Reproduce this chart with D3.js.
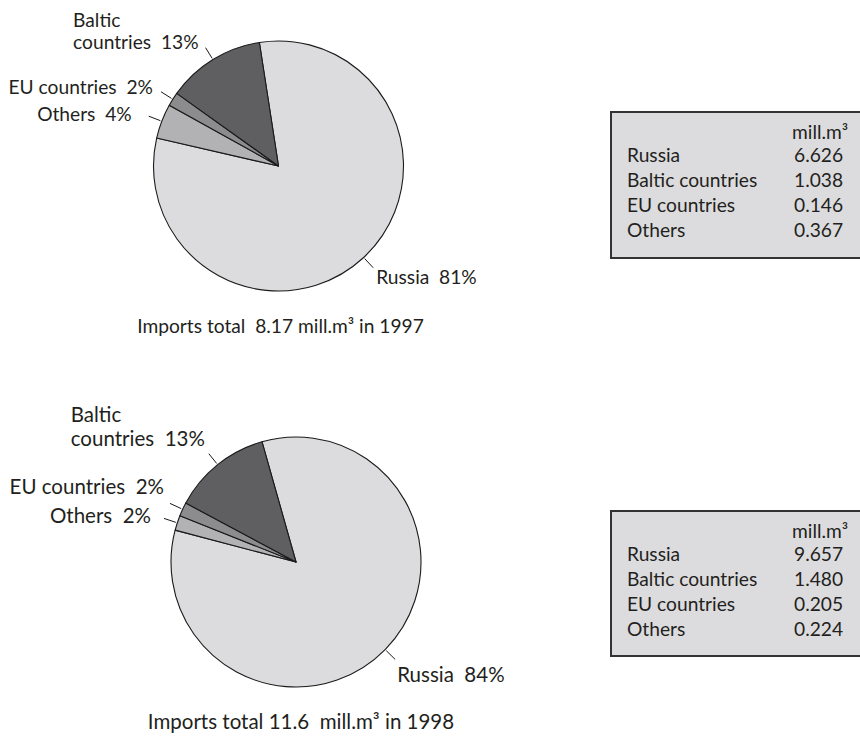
<!DOCTYPE html>
<html>
<head>
<meta charset="utf-8">
<script src="https://cdn.jsdelivr.net/npm/d3@7"></script>
<style>
  body { margin: 0; background: #fff; }
  svg text { font-family: Lato, "Open Sans", sans-serif; fill: #231f20; white-space: pre; }
</style>
</head>
<body>
<svg id="chart" width="860" height="738"></svg>
<script>
// Gas imports by origin, 1997 and 1998
const categories = ["Russia", "Baltic countries", "EU countries", "Others"];
const pieLabelLines = [["Russia"], ["Baltic", "countries"], ["EU countries"], ["Others"]];
const values1997 = [6.626, 1.038, 0.146, 0.367];
const values1998 = [9.657, 1.480, 0.205, 0.224];
const share1997 = [81, 13, 2, 4];
const share1998 = [84, 13, 2, 2];
const totals = ["8.17", "11.6"];
const years = ["1997", "1998"];
const unit = "mill.m³";
const titles = [
  `Imports total  ${totals[0]} ${unit} in ${years[0]}`,
  `Imports total ${totals[1]}  ${unit} in ${years[1]}`
];

const colors = ["#dcdcde", "#5f5f61", "#8c8c8e", "#b2b2b4"];
// slices run clockwise in this order
const sliceOrder = [0, 3, 2, 1];

const svg = d3.select("#chart");
const tableFont = 19.2;
const deg = Math.PI / 180;

const panels = [
  {
    values: values1997, shares: share1997, title: titles[0],
    cx: 278.5, cy: 166, r: 125, start: -8.8, font: 19.2, titleShift: 2,
    // label nudges from the outer end of each leader: [dx, dy, anchor]
    nudges: [[3, 16, "start"], [-7, 1, "end"], [-8, 2, "end"], [-17, 5, "end"]],
    lineGap: 22,
    table: { x: 611, y: 112, h: 146 }
  },
  {
    values: values1998, shares: share1998, title: titles[1],
    cx: 296, cy: 562, r: 125, start: -15.8, font: 20.5, titleShift: 5,
    nudges: [[2, 23, "start"], [-4, -8, "end"], [-6, -9, "end"], [-13, 5, "end"]],
    lineGap: 24,
    table: { x: 611, y: 511, h: 145 }
  }
];

panels.forEach(p => {
  const g = svg.append("g").attr("transform", `translate(${p.cx},${p.cy})`);

  const pie = d3.pie()
    .sort(null)
    .value(i => p.values[i])
    .startAngle(p.start * deg)
    .endAngle(p.start * deg + 2 * Math.PI);
  const arcs = pie(sliceOrder);
  const arc = d3.arc().innerRadius(0).outerRadius(p.r);

  g.selectAll("path.slice")
    .data(arcs)
    .join("path")
    .attr("class", "slice")
    .attr("d", arc)
    .attr("fill", d => colors[d.data])
    .attr("stroke", "#1a1a1a")
    .attr("stroke-width", 1.1)
    .attr("stroke-linejoin", "round");

  // leader lines at each slice's mid-angle, with labels
  arcs.forEach(d => {
    const mid = (d.startAngle + d.endAngle) / 2;
    const a = [Math.sin(mid) * (p.r + 1.5), -Math.cos(mid) * (p.r + 1.5)];
    const b = [Math.sin(mid) * (p.r + 14), -Math.cos(mid) * (p.r + 14)];
    g.append("line")
      .attr("x1", a[0]).attr("y1", a[1])
      .attr("x2", b[0]).attr("y2", b[1])
      .attr("stroke", "#1a1a1a").attr("stroke-width", 1);

    const i = d.data;
    const [dx, dy, anchor] = p.nudges[i];
    const lines = pieLabelLines[i];
    const lastLine = `${lines[lines.length - 1]}  ${p.shares[i]}%`;
    const t = g.append("text")
      .attr("x", b[0] + dx).attr("y", b[1] + dy)
      .attr("text-anchor", anchor)
      .attr("font-size", p.font)
      .text(lastLine);
    if (lines.length > 1) {
      const w = t.node().getComputedTextLength();
      const left = anchor === "end" ? b[0] + dx - w : b[0] + dx;
      g.append("text")
        .attr("x", left).attr("y", b[1] + dy - p.lineGap)
        .attr("font-size", p.font)
        .text(lines[0]);
    }
  });

  // caption under the pie
  svg.append("text")
    .attr("x", p.cx + p.titleShift).attr("y", p.cy + 167)
    .attr("text-anchor", "middle")
    .attr("font-size", p.font)
    .text(p.title);

  // value table
  const tb = svg.append("g").attr("transform", `translate(${p.table.x},${p.table.y})`);
  tb.append("rect")
    .attr("x", 0).attr("y", 0)
    .attr("width", 280).attr("height", p.table.h)
    .attr("fill", "#dcdcde")
    .attr("stroke", "#333").attr("stroke-width", 2);
  tb.append("text")
    .attr("x", 181).attr("y", 27)
    .attr("font-size", tableFont)
    .text(unit);
  const rowY = d3.scaleLinear().domain([0, 1]).range([50, 75]);
  categories.forEach((c, i) => {
    tb.append("text").attr("x", 16).attr("y", rowY(i)).attr("font-size", tableFont).text(c);
    tb.append("text").attr("x", 183).attr("y", rowY(i)).attr("font-size", tableFont)
      .text(d3.format(".3f")(p.values[i]));
  });
});
</script>
</body>
</html>
